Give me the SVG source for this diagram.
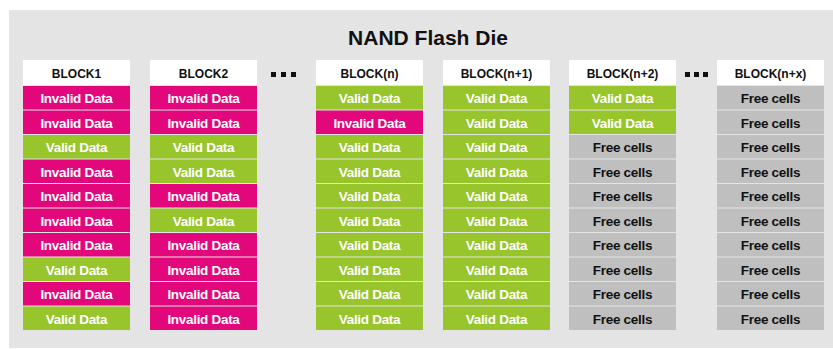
<svg xmlns="http://www.w3.org/2000/svg" width="833" height="349" viewBox="0 0 833 349">
<style>
text{font-family:"Liberation Sans",Arial,sans-serif;font-weight:bold;text-anchor:middle}
.t{font-size:21px;fill:#111}
.h{font-size:12px;fill:#111}
.c{font-size:13.5px;letter-spacing:-0.3px}
.hd{fill:#ffffff}
.I{fill:#e2077b}
.V{fill:#97c52b}
.F{fill:#bfbfbf}
.tl{fill:#ffffff}
.td{fill:#111111}
.dot{fill:#111}
</style>
<defs>
<g id="ri"><rect class="I" x="0" y="0" width="107" height="23.5"/><text class="c tl" x="53.5" y="17">Invalid Data</text></g>
<g id="rv"><rect class="V" x="0" y="0" width="107" height="23.5"/><text class="c tl" x="53.5" y="17">Valid Data</text></g>
<g id="rf"><rect class="F" x="0" y="0" width="107" height="23.5"/><text class="c td" x="53.5" y="17">Free cells</text></g>
</defs>
<rect x="9" y="10" width="824" height="338" fill="#e4e4e4"/>
<text class="t" x="428" y="45">NAND Flash Die</text>

<g id="dots1"><rect class="dot" x="271" y="72" width="5" height="5"/><rect class="dot" x="281" y="72" width="5" height="5"/><rect class="dot" x="291" y="72" width="5" height="5"/></g>
<g id="dots2"><rect class="dot" x="685" y="72" width="5" height="5"/><rect class="dot" x="694" y="72" width="5" height="5"/><rect class="dot" x="703" y="72" width="5" height="5"/></g>

<g id="block1" transform="translate(23,0)">
<rect x="0" y="60" width="107" height="25" class="hd"/><text class="h" x="53.5" y="77.5">BLOCK1</text>
<use href="#ri" y="86"/><use href="#ri" y="110.5"/><use href="#rv" y="135"/><use href="#ri" y="159.5"/><use href="#ri" y="184"/><use href="#ri" y="208.5"/><use href="#ri" y="233"/><use href="#rv" y="257.5"/><use href="#ri" y="282"/><use href="#rv" y="306.5"/>
</g>
<g id="block2" transform="translate(150,0)">
<rect x="0" y="60" width="107" height="25" class="hd"/><text class="h" x="53.5" y="77.5">BLOCK2</text>
<use href="#ri" y="86"/><use href="#ri" y="110.5"/><use href="#rv" y="135"/><use href="#rv" y="159.5"/><use href="#ri" y="184"/><use href="#rv" y="208.5"/><use href="#ri" y="233"/><use href="#ri" y="257.5"/><use href="#ri" y="282"/><use href="#ri" y="306.5"/>
</g>
<g id="blockn" transform="translate(316,0)">
<rect x="0" y="60" width="107" height="25" class="hd"/><text class="h" x="53.5" y="77.5">BLOCK(n)</text>
<use href="#rv" y="86"/><use href="#ri" y="110.5"/><use href="#rv" y="135"/><use href="#rv" y="159.5"/><use href="#rv" y="184"/><use href="#rv" y="208.5"/><use href="#rv" y="233"/><use href="#rv" y="257.5"/><use href="#rv" y="282"/><use href="#rv" y="306.5"/>
</g>
<g id="blockn1" transform="translate(443,0)">
<rect x="0" y="60" width="107" height="25" class="hd"/><text class="h" x="53.5" y="77.5">BLOCK(n+1)</text>
<use href="#rv" y="86"/><use href="#rv" y="110.5"/><use href="#rv" y="135"/><use href="#rv" y="159.5"/><use href="#rv" y="184"/><use href="#rv" y="208.5"/><use href="#rv" y="233"/><use href="#rv" y="257.5"/><use href="#rv" y="282"/><use href="#rv" y="306.5"/>
</g>
<g id="blockn2" transform="translate(569,0)">
<rect x="0" y="60" width="107" height="25" class="hd"/><text class="h" x="53.5" y="77.5">BLOCK(n+2)</text>
<use href="#rv" y="86"/><use href="#rv" y="110.5"/><use href="#rf" y="135"/><use href="#rf" y="159.5"/><use href="#rf" y="184"/><use href="#rf" y="208.5"/><use href="#rf" y="233"/><use href="#rf" y="257.5"/><use href="#rf" y="282"/><use href="#rf" y="306.5"/>
</g>
<g id="blocknx" transform="translate(717,0)">
<rect x="0" y="60" width="107" height="25" class="hd"/><text class="h" x="53.5" y="77.5">BLOCK(n+x)</text>
<use href="#rf" y="86"/><use href="#rf" y="110.5"/><use href="#rf" y="135"/><use href="#rf" y="159.5"/><use href="#rf" y="184"/><use href="#rf" y="208.5"/><use href="#rf" y="233"/><use href="#rf" y="257.5"/><use href="#rf" y="282"/><use href="#rf" y="306.5"/>
</g>
<g id="connectors"/>
</svg>
